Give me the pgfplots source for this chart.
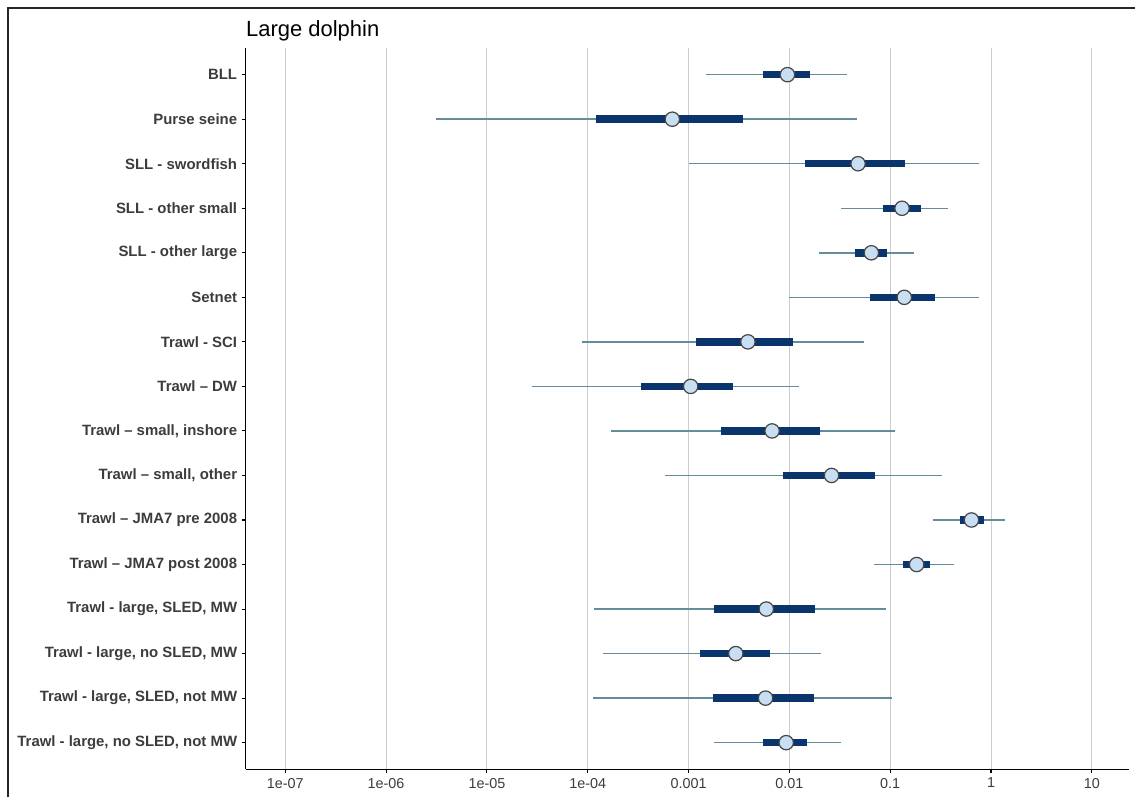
\documentclass[border=0pt]{standalone}
\usepackage{pgfplots}
\pgfplotsset{compat=1.18}
\usepackage{fontspec}
\setmainfont{Liberation Sans}
\definecolor{thincol}{RGB}{100,140,155}
\definecolor{thickcol}{RGB}{10,52,108}
\definecolor{cfill}{RGB}{200,222,242}
\definecolor{cedge}{RGB}{70,70,70}
\definecolor{txtcol}{RGB}{60,60,60}
\definecolor{gridcol}{RGB}{205,205,205}
\newcommand{\drawrow}[6]{%
  \addplot[thincol, line width=1.1pt, forget plot] coordinates {(#2,#1) (#6,#1)};
  \addplot[thickcol, line width=5.6pt, line cap=butt, forget plot] coordinates {(#3,#1) (#5,#1)};
  \addplot[only marks, mark=*, mark size=5.4pt, mark options={fill=cfill, draw=cedge, line width=0.9pt}, forget plot] coordinates {(#4,#1)};
}
\begin{document}
\begin{tikzpicture}
\path (0,0) rectangle (852pt,598.5pt);
\draw[black!85, line width=1.4pt] (6pt,0pt) -- (6pt,592.5pt) -- (852pt,592.5pt);
\node[anchor=base west, font=\fontsize{16.5}{19}\selectfont, inner sep=0pt] at (184.5pt,571pt) {Large dolphin};
\begin{axis}[
  at={(184.5pt,21pt)}, anchor=south west,
  width=663pt, height=541.5pt, scale only axis,
  xmode=log, xmin=4.06e-8, xmax=23.4,
  ymin=0.4, ymax=16.6,
  axis x line*=bottom, axis y line*=left,
  axis line style={black, line width=0.8pt},
  xtick={1e-7,1e-6,1e-5,1e-4,1e-3,1e-2,1e-1,1,10},
  xticklabels={1e-07,1e-06,1e-05,1e-04,0.001,0.01,0.1,1,10},
  xminorticks=false,
  xmajorgrids, grid style={gridcol, line width=0.7pt},
  ytick={1,...,16},
  yticklabels={{Trawl - large, no SLED, not MW},{Trawl - large, SLED, not MW},{Trawl - large, no SLED, MW},{Trawl - large, SLED, MW},{Trawl – JMA7 post 2008},{Trawl – JMA7 pre 2008},{Trawl – small, other},{Trawl – small, inshore},{Trawl – DW},{Trawl - SCI},{Setnet},{SLL - other large},{SLL - other small},{SLL - swordfish},{Purse seine},{BLL}},
  tick align=outside, major tick length=3pt,
  tick style={black, line width=0.8pt},
  yticklabel style={font=\fontsize{11.2}{13}\selectfont\bfseries, text=txtcol},
  xticklabel style={font=\fontsize{10.8}{12}\selectfont, text=txtcol},
  /pgf/number format/assume math mode=true,
]
\drawrow{16}{0.00148}{0.0055}{0.00957}{0.016}{0.0372}
\drawrow{15}{3.1e-6}{1.2e-4}{6.9e-4}{0.0035}{0.047}
\drawrow{14}{0.001}{0.0142}{0.048}{0.14}{0.755}
\drawrow{13}{0.0326}{0.0847}{0.131}{0.2}{0.378}
\drawrow{12}{0.0196}{0.0443}{0.065}{0.0925}{0.171}
\drawrow{11}{0.01}{0.0628}{0.138}{0.276}{0.755}
\drawrow{10}{8.85e-5}{0.00119}{0.00388}{0.0108}{0.0547}
\drawrow{9}{2.8e-5}{3.4e-4}{0.00105}{0.00279}{0.01245}
\drawrow{8}{1.69e-4}{0.0021}{0.00674}{0.0201}{0.111}
\drawrow{7}{5.8e-4}{0.00855}{0.0262}{0.071}{0.324}
\drawrow{6}{0.267}{0.488}{0.64}{0.855}{1.37}
\drawrow{5}{0.0698}{0.1346}{0.183}{0.25}{0.431}
\drawrow{4}{1.15e-4}{0.00177}{0.0059}{0.018}{0.0908}
\drawrow{3}{1.43e-4}{0.0013}{0.00294}{0.00645}{0.0205}
\drawrow{2}{1.12e-4}{0.00174}{0.0058}{0.0175}{0.1035}
\drawrow{1}{0.00177}{0.0055}{0.0093}{0.0151}{0.0324}
\end{axis}
\end{tikzpicture}
\end{document}
